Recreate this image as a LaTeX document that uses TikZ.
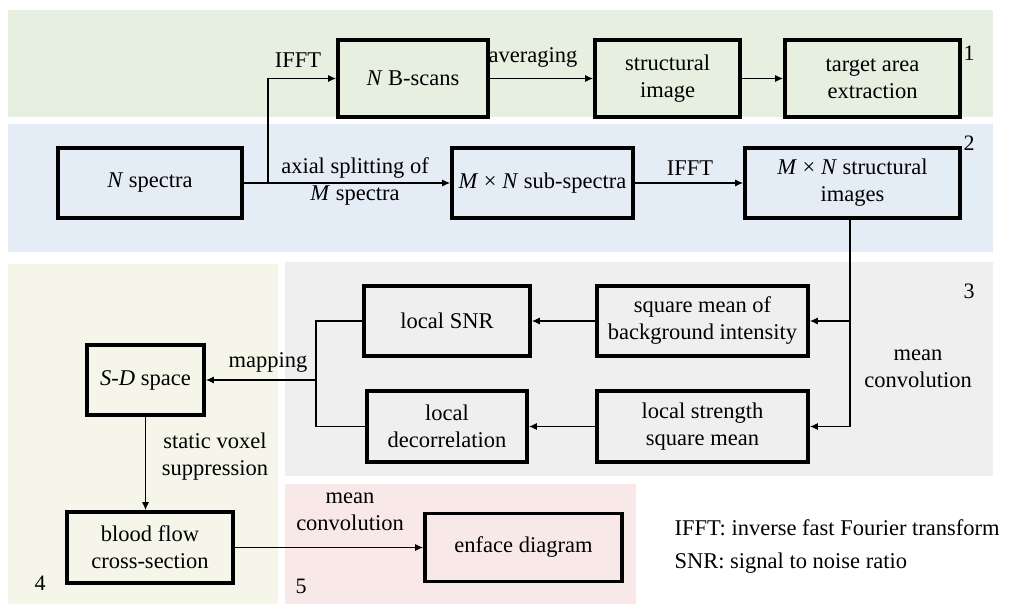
\documentclass[tikz,border=0pt]{standalone}
\usepackage{fontspec}
\setmainfont{Liberation Serif}
\usetikzlibrary{arrows.meta,calc}
\definecolor{bgA}{HTML}{E7EFE1}
\definecolor{bgB}{HTML}{E4EDF5}
\definecolor{bgC}{HTML}{EFEFEF}
\definecolor{bgD}{HTML}{F5F5EA}
\definecolor{bgE}{HTML}{F8E8E8}
\begin{document}
\begin{tikzpicture}[x=1pt,y=-1pt,
  box/.style={draw,line width=3.8pt,align=center,inner sep=2pt,font=\fontsize{22.5}{27}\selectfont},
  lbl/.style={align=center,font=\fontsize{22.5}{27}\selectfont},
  num/.style={font=\fontsize{22}{24}\selectfont},
  arr/.style={line width=1.1pt,-{Latex[length=8pt,width=7pt]}},
  ln/.style={line width=1.1pt}]
\useasboundingbox (0,0) rectangle (1009,604);
\fill[white] (0,0) rectangle (1009,604);
% bands
\fill[bgA] (8,10) rectangle (993,117);
\fill[bgB] (8,124) rectangle (993,252);
\fill[bgD] (8,264) rectangle (278,604);
\fill[bgC] (285,262) rectangle (993,476);
\fill[bgE] (285,484) rectangle (636,604);
% boxes
\node[box,minimum width=150pt,minimum height=77pt] (nb) at (413,78.5) {\textit{N} B-scans};
\node[box,minimum width=145pt,minimum height=77pt] (si) at (667.5,78.5) {structural\\image};
\node[box,minimum width=175pt,minimum height=77pt] (ta) at (872.5,78.5) {target area\\extraction};
\node[box,minimum width=184pt,minimum height=70pt] (ns) at (150,183) {\textit{N} spectra};
\node[box,minimum width=181pt,minimum height=70pt] (ss) at (542.5,183) {\textit{M} × \textit{N} sub-spectra};
\node[box,minimum width=215pt,minimum height=70pt] (sim) at (852.5,183) {\textit{M} × \textit{N} structural\\images};
\node[box,minimum width=166pt,minimum height=70pt] (snr) at (447,321) {local SNR};
\node[box,minimum width=211pt,minimum height=70pt] (sqm) at (702.5,321) {square mean of\\background intensity};
\node[box,minimum width=160pt,minimum height=71pt] (ldc) at (447,426.5) {local\\decorrelation};
\node[box,minimum width=211pt,minimum height=71pt] (lss) at (702.5,426.5) {local strength\\square mean};
\node[box,minimum width=117pt,minimum height=70pt] (sd) at (145.5,380) {\textit{S}-\textit{D} space};
\node[box,minimum width=166pt,minimum height=71pt] (bf) at (150,547.5) {blood flow\\cross-section};
\node[box,minimum width=197pt,minimum height=68pt] (ef) at (523.5,547.5) {enface diagram};
% numbers
\node[num] (n1) at (969,53) {1};
\node[num] (n2) at (969,143) {2};
\node[num] (n3) at (969,291) {3};
\node[num] (n4) at (40,583) {4};
\node[num] (n5) at (301,586) {5};
% labels
\node[lbl] (l1) at (298,60) {IFFT};
\node[lbl] (l2) at (533,57) {averaging};
\node[lbl] (l3) at (355,181) {axial splitting of\\\textit{M} spectra};
\node[lbl] (l4) at (690,168) {IFFT};
\node[lbl] (l5) at (918,369) {mean\\convolution};
\node[lbl] (l6) at (268,362) {mapping};
\node[lbl] (l7) at (215,457) {static voxel\\suppression};
\node[lbl] (l8) at (350,512) {mean\\convolution};
\node[lbl,anchor=west] (g1) at (671,528) {IFFT: inverse fast Fourier transform};
\node[lbl,anchor=west] (g2) at (671,563) {SNR: signal to noise ratio};
% connectors
\coordinate (j1) at (268,183);
\draw[arr] (ns.east) -- (ss.west);
\draw[arr] (j1) |- (nb.west);
\draw[arr] (nb.east) -- (si.west);
\draw[arr] (si.east) -- (ta.west);
\draw[arr] (ss.east) -- (sim.west);
\coordinate (j2) at ($(sim.south)+(-2.5,0)$);
\draw[arr] (j2) |- (lss.east);
\draw[arr] (j2 |- sqm.east) -- (sqm.east);
\draw[arr] (sqm.west) -- (snr.east);
\draw[arr] (lss.west) -- (ldc.east);
\coordinate (bk) at (316,380);
\draw[ln] (snr.west) -| (bk) |- (ldc.west);
\draw[arr] (bk) -- (sd.east);
\draw[arr] (sd.south) -- (sd.south |- bf.north);
\draw[arr] (bf.east) -- (ef.west);
\end{tikzpicture}
\end{document}
